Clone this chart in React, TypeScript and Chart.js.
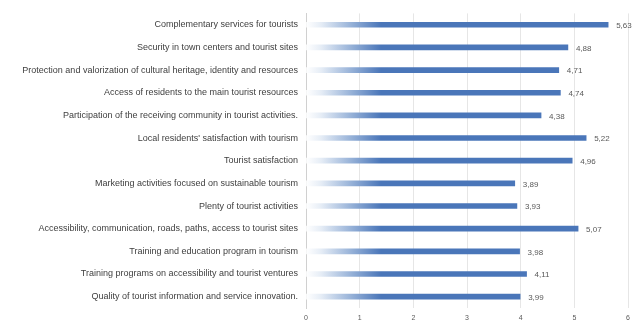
import React, { useEffect, useRef } from "react";
import { Chart, registerables } from "chart.js";

Chart.register(...registerables);

const categories: string[] = [
  "Complementary services for tourists",
  "Security in town centers and tourist sites",
  "Protection and valorization of cultural heritage, identity and resources",
  "Access of residents to the main tourist resources",
  "Participation of the receiving community in tourist activities.",
  "Local residents' satisfaction with tourism",
  "Tourist satisfaction",
  "Marketing activities focused on sustainable tourism",
  "Plenty of tourist activities",
  "Accessibility, communication, roads, paths, access to tourist sites",
  "Training and education program in tourism",
  "Training programs on accessibility and tourist ventures",
  "Quality of tourist information and service innovation.",
];

const values: number[] = [5.63, 4.88, 4.71, 4.74, 4.38, 5.22, 4.96, 3.89, 3.93, 5.07, 3.98, 4.11, 3.99];

const xTicks: number[] = [0, 1, 2, 3, 4, 5, 6];

const FONT = "'Liberation Sans', Arial, sans-serif";

const valueLabels = {
  id: "valueLabels",
  afterDatasetsDraw(chart: any) {
    const ctx = chart.ctx;
    const meta = chart.getDatasetMeta(0);
    ctx.save();
    ctx.font = `8px ${FONT}`;
    ctx.fillStyle = "#595959";
    ctx.textAlign = "left";
    ctx.textBaseline = "middle";
    meta.data.forEach((bar: any, i: number) => {
      const txt = values[i].toFixed(2).replace(".", ",");
      ctx.fillText(txt, bar.x + 8, bar.y + 1);
    });
    ctx.restore();
  },
};

export default function App() {
  const ref = useRef<HTMLCanvasElement | null>(null);
  useEffect(() => {
    document.body.style.margin = "0";
    const canvas = ref.current!;
    const chart = new Chart(canvas, {
      type: "bar",
      data: {
        labels: categories,
        datasets: [
          {
            data: values,
            barThickness: 5,
            borderWidth: 0,
            backgroundColor: (c: any) => {
              const area = c.chart.chartArea;
              if (!area) return "#4673b8";
              const g = c.chart.ctx.createLinearGradient(area.left, 0, area.left + 75, 0);
              g.addColorStop(0, "rgba(255,255,255,1)");
              g.addColorStop(0.2, "#e6edf6");
              g.addColorStop(0.6, "#97b2d8");
              g.addColorStop(1, "#4a76b9");
              return g;
            },
          },
        ],
      },
      options: {
        indexAxis: "y",
        animation: false,
        responsive: false,
        maintainAspectRatio: false,
        layout: { padding: { left: 0, right: 15, top: 13, bottom: 0 } },
        plugins: {
          legend: { display: false },
          tooltip: { enabled: false },
        },
        scales: {
          x: {
            min: 0,
            max: 6,
            afterBuildTicks: (s: any) => {
              s.ticks = xTicks.map((v) => ({ value: v }));
            },
            afterFit: (s: any) => {
              s.height = 14;
            },
            grid: { color: "#e6e6e6", drawTicks: false, lineWidth: 1 },
            border: { display: false },
            ticks: {
              font: { size: 7, family: FONT },
              color: "#595959",
              padding: 6,
            },
          },
          y: {
            afterFit: (s: any) => {
              s.width = 306;
            },
            grid: { display: false, drawTicks: false },
            border: { display: true, color: "#d0d0d0", width: 1 },
            ticks: {
              font: { size: 9, family: FONT },
              color: "#404040",
              padding: 8,
              autoSkip: false,
            },
          },
        },
      },
      plugins: [valueLabels],
    });
    return () => chart.destroy();
  }, []);
  return <canvas ref={ref} width={643} height={322} style={{ display: "block" }} />;
}
